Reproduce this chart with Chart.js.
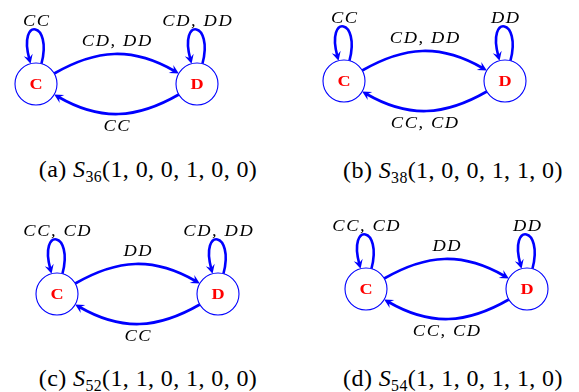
<!DOCTYPE html>
<html>
<head>
<meta charset="utf-8">
<script src="https://cdn.jsdelivr.net/npm/chart.js@4/dist/chart.umd.min.js"></script>
<style>
  html, body { margin:0; padding:0; background:#fff; overflow:hidden; }
  #wrap { position:relative; width:579px; height:392px; }
  canvas { position:absolute; }
  .cap { position:absolute; font-family:"Liberation Serif", "Times New Roman", "DejaVu Serif", serif; font-size:24px; color:#000;
         white-space:nowrap; transform:translate(-50%,-50%); line-height:1; letter-spacing:0.4px; }
  .cap i { font-style:italic; }
  .cap .sb { font-size:0.66em; position:relative; top:0.3em; }
</style>
</head>
<body>
<div id="wrap"></div>
<script>
// ---------- data ----------
const states = ['C', 'D'];
const stateX = [0, 1];
const panelLetters = ['a', 'b', 'c', 'd'];
const strategyIds = ['36', '38', '52', '54'];
const strategyVectors = [[1,0,0,1,0,0], [1,0,0,1,1,0], [1,1,0,1,0,0], [1,1,0,1,1,0]];
const loopLabelsC = ['CC', 'CC', 'CC, CD', 'CC, CD'];
const loopLabelsD = ['CD, DD', 'DD', 'CD, DD', 'DD'];
const edgeLabelsCD = ['CD, DD', 'CD, DD', 'DD', 'DD'];
const edgeLabelsDC = ['CC', 'CC, CD', 'CC', 'CC, CD'];

// ---------- layout (pixels) ----------
const panelAnchor = [[36, 84], [344, 81], [57, 294], [366, 289]]; // where state C sits
const captionPos = [[148, 169], [453, 170], [148, 378], [453, 378]];
const UNIT = 161, ML = 50, MR = 50, MT = 80, MB = 60;
const BLUE = '#0000ff';
const R = 21;
const SERIF = '"Liberation Serif", "Times New Roman", serif';

function drawMath(ctx, text, cx, baseY) {
  const sx = 1.15, sp = 1.6;
  ctx.font = 'italic 16px ' + SERIF;
  const ws = [...text].map(ch => ctx.measureText(ch).width * sx);
  const total = ws.reduce((a, b) => a + b, 0) + sp * (ws.length - 1);
  let x = cx - total / 2;
  ctx.fillStyle = '#000';
  ctx.textBaseline = 'alphabetic';
  ctx.textAlign = 'left';
  [...text].forEach((ch, k) => {
    ctx.save(); ctx.translate(x, baseY); ctx.scale(sx, 1); ctx.fillText(ch, 0, 0); ctx.restore();
    x += ws[k] + sp;
  });
}

function arrowHead(ctx, tip, d) {
  const len = 9, w = 4.6;
  const n = { x: -d.y, y: d.x };
  ctx.beginPath();
  ctx.moveTo(tip.x, tip.y);
  ctx.lineTo(tip.x - d.x * len + n.x * w, tip.y - d.y * len + n.y * w);
  ctx.lineTo(tip.x - d.x * len * 0.62, tip.y - d.y * len * 0.62);
  ctx.lineTo(tip.x - d.x * len - n.x * w, tip.y - d.y * len - n.y * w);
  ctx.closePath();
  ctx.fill();
}

function curve(ctx, s, c1, c2, e) {
  let d = { x: e.x - c2.x, y: e.y - c2.y };
  const L = Math.hypot(d.x, d.y); d = { x: d.x / L, y: d.y / L };
  const sh = 5;
  ctx.beginPath();
  ctx.moveTo(s.x, s.y);
  ctx.bezierCurveTo(c1.x, c1.y, c2.x - d.x * sh, c2.y - d.y * sh, e.x - d.x * sh, e.y - d.y * sh);
  ctx.stroke();
  arrowHead(ctx, e, d);
}

function bendEdge(ctx, p0, p1, bendDeg) {
  const a = Math.atan2(p1.y - p0.y, p1.x - p0.x);
  const b = bendDeg * Math.PI / 180;
  const ao = a - b, ai = a + Math.PI + b;
  const s = { x: p0.x + R * Math.cos(ao), y: p0.y + R * Math.sin(ao) };
  const e = { x: p1.x + R * Math.cos(ai), y: p1.y + R * Math.sin(ai) };
  const L = 0.3915 * Math.hypot(e.x - s.x, e.y - s.y);
  curve(ctx, s, { x: s.x + L * Math.cos(ao), y: s.y + L * Math.sin(ao) },
        { x: e.x + L * Math.cos(ai), y: e.y + L * Math.sin(ai) }, e);
}

function selfLoop(ctx, p) {
  const ao = -75 * Math.PI / 180, ai = -105 * Math.PI / 180, L = 44;
  const s = { x: p.x + R * Math.cos(ao), y: p.y + R * Math.sin(ao) };
  const e = { x: p.x + R * Math.cos(ai), y: p.y + R * Math.sin(ai) };
  curve(ctx, s, { x: s.x + L * Math.cos(ao), y: s.y + L * Math.sin(ao) },
        { x: e.x + L * Math.cos(ai), y: e.y + L * Math.sin(ai) }, e);
}

const graphPlugin = {
  id: 'graph',
  beforeDatasetsDraw(chart) {
    const { ctx, scales: { x, y } } = chart;
    const P = stateX.map(v => ({ x: x.getPixelForValue(v), y: y.getPixelForValue(0) }));
    ctx.save();
    ctx.strokeStyle = BLUE; ctx.fillStyle = BLUE; ctx.lineWidth = 2.6; ctx.lineCap = 'butt';
    bendEdge(ctx, P[0], P[1], 30);
    bendEdge(ctx, P[1], P[0], 30);
    selfLoop(ctx, P[0]);
    selfLoop(ctx, P[1]);
    ctx.restore();
  },
  afterDatasetsDraw(chart) {
    const i = chart.options.plugins.graph.panel;
    const { ctx, scales: { x, y } } = chart;
    const P = stateX.map(v => ({ x: x.getPixelForValue(v), y: y.getPixelForValue(0) }));
    ctx.save();
    ctx.fillStyle = '#ff0000';
    ctx.font = 'bold 14px ' + SERIF;
    ctx.textAlign = 'center'; ctx.textBaseline = 'alphabetic';
    states.forEach((s, k) => {
      ctx.save(); ctx.translate(P[k].x, P[k].y + 4.8); ctx.scale(1.3, 1); ctx.fillText(s, 0, 0); ctx.restore();
    });
    const mid = (P[0].x + P[1].x) / 2;
    drawMath(ctx, loopLabelsC[i], P[0].x, P[0].y - 58);
    drawMath(ctx, loopLabelsD[i], P[1].x, P[1].y - 58);
    drawMath(ctx, edgeLabelsCD[i], mid, P[0].y - 38);
    drawMath(ctx, edgeLabelsDC[i], mid, P[0].y + 47);
    ctx.restore();
  }
};

const wrap = document.getElementById('wrap');
panelLetters.forEach((letter, i) => {
  const [ax, ay] = panelAnchor[i];
  const W = ML + UNIT + MR, H = MT + MB;
  const cv = document.createElement('canvas');
  cv.width = W; cv.height = H;
  cv.style.left = (ax - ML) + 'px'; cv.style.top = (ay - MT) + 'px';
  cv.style.width = W + 'px'; cv.style.height = H + 'px';
  wrap.appendChild(cv);
  new Chart(cv, {
    type: 'scatter',
    data: {
      labels: states,
      datasets: [{
        data: stateX.map(v => ({ x: v, y: 0 })),
        pointRadius: R, pointHoverRadius: R,
        pointBackgroundColor: '#ffffff', pointBorderColor: BLUE, pointBorderWidth: 1.1,
        clip: false
      }]
    },
    options: {
      responsive: false, animation: false, devicePixelRatio: 1,
      layout: { padding: 0, autoPadding: false },
      events: [],
      scales: {
        x: { type: 'linear', display: false, min: -ML / UNIT, max: 1 + MR / UNIT },
        y: { type: 'linear', display: false, min: -MB / UNIT, max: MT / UNIT }
      },
      plugins: { legend: { display: false }, tooltip: { enabled: false }, graph: { panel: i } }
    },
    plugins: [graphPlugin]
  });
  const cap = document.createElement('div');
  cap.className = 'cap';
  cap.style.left = captionPos[i][0] + 'px'; cap.style.top = captionPos[i][1] + 'px';
  cap.innerHTML = '(' + letter + ') <i>S</i><span class="sb">' + strategyIds[i] + '</span>(' +
                  strategyVectors[i].join(', ') + ')';
  wrap.appendChild(cap);
});
</script>
</body>
</html>
